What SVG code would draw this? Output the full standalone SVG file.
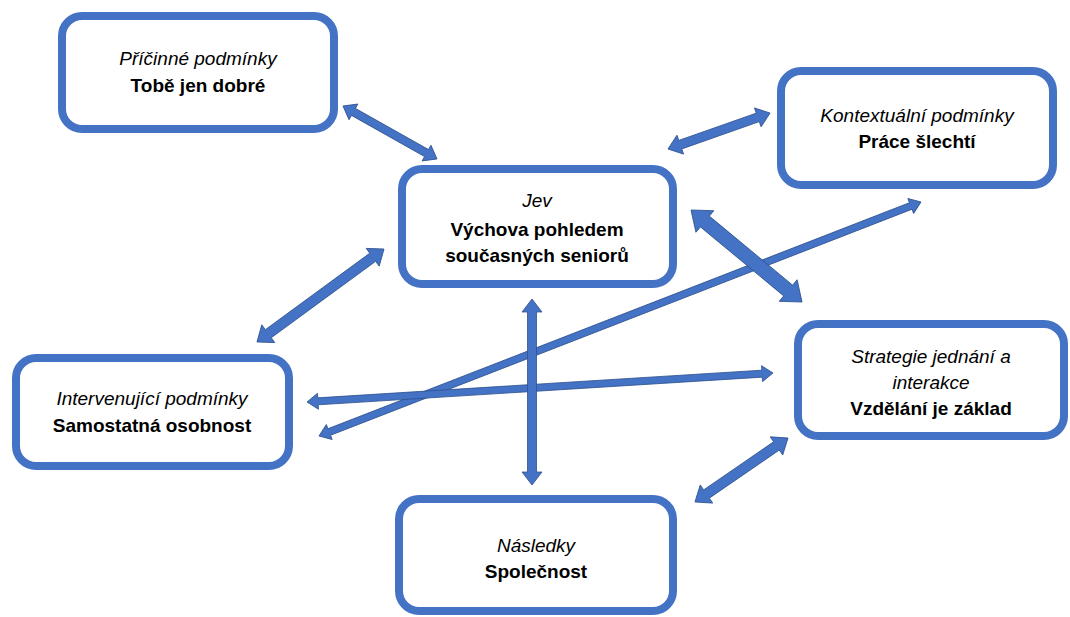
<svg xmlns="http://www.w3.org/2000/svg" width="1070" height="617" viewBox="0 0 1070 617">
  <style>
    .box { fill: #ffffff; stroke: #4472C4; stroke-width: 8; }
    .arr { fill: #4472C4; stroke: #2F528F; stroke-width: 0.8; stroke-linejoin: miter; }
    text { font-family: "Liberation Sans", Arial, sans-serif; font-size: 19px; fill: #000000; text-anchor: middle; }
    .it { font-style: italic; }
    .b { font-weight: bold; }
  </style>
  <rect width="1070" height="617" fill="#ffffff"/>
  <g id="connectors">
    <!-- Příčinné – Jev -->
    <path class="arr" transform="translate(343,106) rotate(29.4)" d="M0,0 L12,-9 L12,-4 L95.9,-4 L95.9,-9 L107.9,0 L95.9,9 L95.9,4 L12,4 L12,9 Z"/>
    <!-- Kontext – Jev -->
    <path class="arr" transform="translate(668,149) rotate(-19.4)" d="M0,0 L13,-10 L13,-4.5 L95.2,-4.5 L95.2,-10 L108.2,0 L95.2,10 L95.2,4.5 L13,4.5 L13,10 Z"/>
    <!-- Kontext – Intervenující (long) -->
    <path class="arr" transform="translate(921,202) rotate(158.76)" d="M0,0 L11,-8 L11,-3.5 L634.9,-3.5 L634.9,-8 L645.9,0 L634.9,8 L634.9,3.5 L11,3.5 L11,8 Z"/>
    <!-- Strategie – Intervenující -->
    <path class="arr" transform="translate(773,373) rotate(176.44)" d="M0,0 L11,-8 L11,-3.5 L455.9,-3.5 L455.9,-8 L466.9,0 L455.9,8 L455.9,3.5 L11,3.5 L11,8 Z"/>
    <!-- Jev – Strategie (thick) -->
    <path class="arr" transform="translate(691,210) rotate(39.65)" d="M0,0 L18,-14 L18,-7 L126.2,-7 L126.2,-14 L144.2,0 L126.2,14 L126.2,7 L18,7 L18,14 Z"/>
    <!-- Jev – Intervenující -->
    <path class="arr" transform="translate(384,249) rotate(143.8)" d="M0,0 L14,-11 L14,-5 L143.4,-5 L143.4,-11 L157.4,0 L143.4,11 L143.4,5 L14,5 L14,11 Z"/>
    <!-- Jev – Následky (vertical) -->
    <path class="arr" transform="translate(532,299) rotate(90)" d="M0,0 L13,-10 L13,-4.5 L173,-4.5 L173,-10 L186,0 L173,10 L173,4.5 L13,4.5 L13,10 Z"/>
    <!-- Strategie – Následky -->
    <path class="arr" transform="translate(788,438) rotate(145.5)" d="M0,0 L14,-11 L14,-5 L98.9,-5 L98.9,-11 L112.9,0 L98.9,11 L98.9,5 L14,5 L14,11 Z"/>
  </g>
  <g id="pricinne">
    <rect class="box" x="62" y="16" width="272" height="113" rx="20"/>
    <text class="it" x="198" y="65">Příčinné podmínky</text>
    <text class="b" x="198" y="92">Tobě jen dobré</text>
  </g>
  <g id="jev">
    <rect class="box" x="402" y="169" width="271" height="115" rx="20"/>
    <text class="it" x="537" y="207">Jev</text>
    <text class="b" x="537" y="236">Výchova pohledem</text>
    <text class="b" x="537" y="262">současných seniorů</text>
  </g>
  <g id="kontextualni">
    <rect class="box" x="781" y="71" width="272" height="114" rx="20"/>
    <text class="it" x="917" y="122">Kontextuální podmínky</text>
    <text class="b" x="917" y="148">Práce šlechtí</text>
  </g>
  <g id="strategie">
    <rect class="box" x="798" y="324" width="266" height="112" rx="20"/>
    <text class="it" x="931" y="363">Strategie jednání a</text>
    <text class="it" x="931" y="389">interakce</text>
    <text class="b" x="931" y="415">Vzdělání je základ</text>
  </g>
  <g id="intervenujici">
    <rect class="box" x="16" y="358" width="273" height="108" rx="20"/>
    <text class="it" x="152" y="405">Intervenující podmínky</text>
    <text class="b" x="152" y="432">Samostatná osobnost</text>
  </g>
  <g id="nasledky">
    <rect class="box" x="399" y="499" width="274" height="112" rx="20"/>
    <text class="it" x="536" y="552">Následky</text>
    <text class="b" x="536" y="578">Společnost</text>
  </g>
</svg>
